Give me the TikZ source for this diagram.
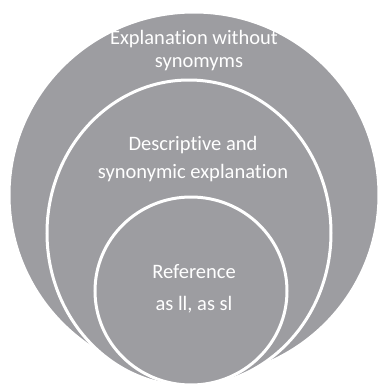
\documentclass[tikz,border=0pt]{standalone}
\usepackage{fontspec}
\setmainfont{Carlito}[Ligatures=CommonOff]
\usepackage{xcolor}
\usetikzlibrary{shapes.geometric}
\definecolor{ringgray}{RGB}{157,157,161}

\begin{document}
\begin{tikzpicture}[
  x=1pt,y=-1pt,
  ring/.style={ellipse,fill=ringgray,draw=white,line width=3pt,inner sep=0pt},
  lbl/.style={text=white,align=center,font=\fontsize{20.5}{23}\selectfont,inner sep=0pt}
]
\useasboundingbox (0,0) rectangle (379,392);
\clip (0,0) rectangle (379,392);
\node[ring,minimum width=370pt,minimum height=366pt] (outer) at (194,195) {};
\node[ring,minimum width=284pt,minimum height=306pt] (middle) at (189,233) {};
\node[ring,minimum width=192pt,minimum height=188pt] (inner) at (191,291) {};
\node[lbl] (tout) at (194,51) {Explanation without\\\hspace*{10pt}synomyms};
\node[lbl] (tmid) at (193,159) {Descriptive and\\[5pt]synonymic explanation};
\node[lbl] (tin) at (194,289) {Reference\\[9pt]as ll, as sl};
\end{tikzpicture}
\end{document}
